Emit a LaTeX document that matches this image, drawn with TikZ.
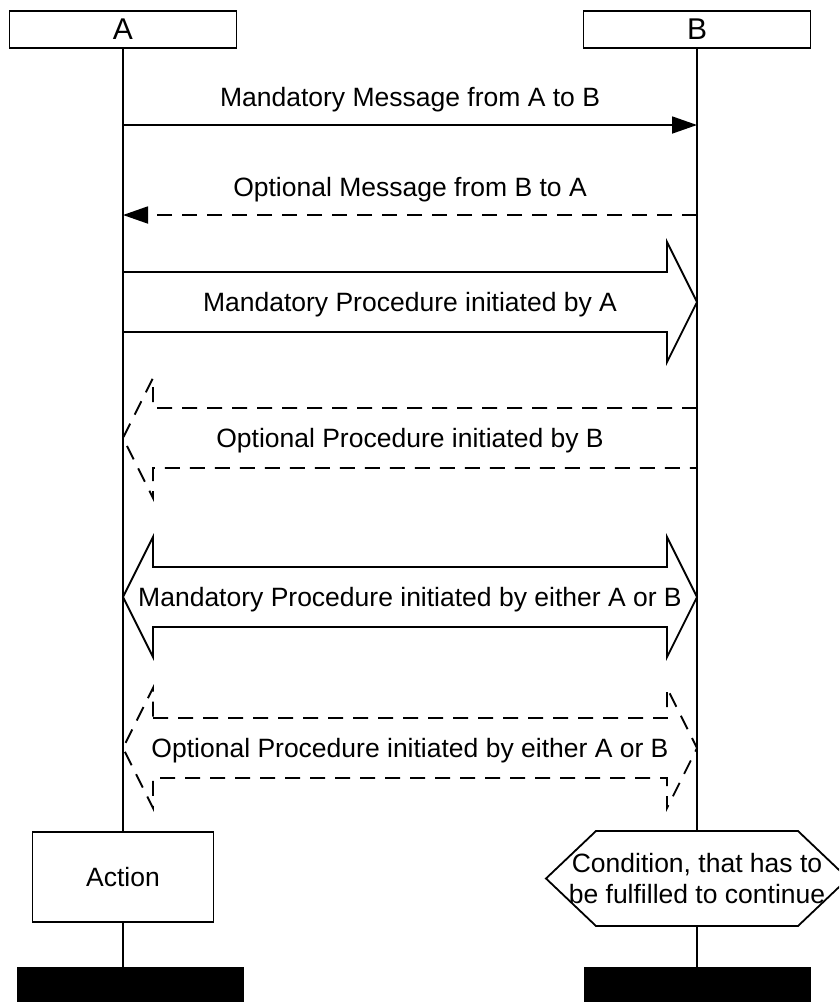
\documentclass[tikz,border=0pt]{standalone}
\usepackage{fontspec}
\setmainfont{Liberation Sans}
\usetikzlibrary{arrows.meta}

\begin{document}
\begin{tikzpicture}[x=1pt,y=-1pt]
      \tikzstyle{box} = [rectangle, draw, line width=1.8pt, inner sep=0pt]
      \tikzstyle{entity} = [box, minimum width=227pt, minimum height=37pt, font=\fontsize{30}{36}\selectfont]
      \tikzstyle{bar} = [rectangle, fill=black, inner sep=0pt, minimum width=227pt, minimum height=50pt]
      \tikzstyle{lbl} = [anchor=base, inner sep=0pt, font=\fontsize{26.5}{31}\selectfont]
      \tikzstyle{msg} = [line width=1.8pt, -{Triangle[length=25pt,width=17pt]}]
      \tikzstyle{proc} = [line width=1.8pt, line join=miter]
      \tikzstyle{opt} = [dash pattern=on 15pt off 10pt]
      \clip (0,0) rectangle (839,1002);
      % entities, action, condition, ends
      \node (A) [entity] at (123,29.5) {A};
      \node (B) [entity] at (697,29.5) {B};
      \node (act) [box, minimum width=181pt, minimum height=90pt, font=\fontsize{26.5}{31}\selectfont] at (123,877) {Action};
      \node (cond) [lbl, anchor=center, align=center] at (697,878.5) {Condition, that has to\\be fulfilled to continue};
      \node (endA) [bar, anchor=north] at (130.5,967) {};
      \node (endB) [bar, anchor=north] at (697,967) {};
      % points on the lifelines
      \foreach \n/\y in {1/125,2/215,3/272,4/302,5/332,6/408,7/438,8/468,9/567,10/597,11/627,12/718,13/748,14/778} {
        \coordinate (a\n) at (123,\y);
        \coordinate (b\n) at (697,\y);
      }
      % condition hexagon
      \draw [proc] (cond.center) ++(-151,0) coordinate (c1) -- ++(50,-47.5) coordinate (c2) -- ++(202,0) -- ++(50,47.5)
        -- ++(-50,47.5) -- ++(-202,0) coordinate (c5) -- cycle;
      % lifelines
      \draw [proc] (A) -- (act);
      \draw [proc] (act) -- (act.south |- endA.north);
      \draw [proc] (B) -- (B |- c2);
      \draw [proc] (B |- c5) -- (B |- endB.north);
      % messages
      \draw [msg] (a1) -- node[lbl, yshift=19pt] {Mandatory Message from A to B} (b1);
      \draw [msg, opt] (b2) -- node[lbl, yshift=19pt] {Optional Message from B to A} (a2);
      % procedures
      \draw [proc] (a3) -- ([xshift=-30pt]b3) -- ++(0,-30) -- (b4) -- ([xshift=-30pt,yshift=-30pt]b5) -- ++(0,-30) -- (a5);
      \path (a4) -- node[lbl, yshift=-9.5pt] {Mandatory Procedure initiated by A} (b4);
      \draw [proc, opt] (b6) -- ([xshift=30pt]a6) -- ++(0,-30) -- (a7) -- ([xshift=30pt,yshift=-30pt]a8) -- ++(0,-30) -- (b8);
      \path (a7) -- node[lbl, yshift=-9.5pt] {Optional Procedure initiated by B} (b7);
      \draw [proc] ([xshift=30pt]a9) -- ([xshift=-30pt]b9) -- ++(0,-30) -- (b10) -- ([xshift=-30pt,yshift=-30pt]b11) -- ++(0,-30)
        -- ([xshift=30pt]a11) -- ++(0,30) -- (a10) -- ([xshift=30pt,yshift=30pt]a9) -- cycle;
      \path (a10) -- node[lbl, yshift=-9.5pt] {Mandatory Procedure initiated by either A or B} (b10);
      \draw [proc, opt] ([xshift=30pt]a12) -- ([xshift=-30pt]b12) -- ++(0,-30) -- (b13) -- ([xshift=-30pt,yshift=-30pt]b14) -- ++(0,-30)
        -- ([xshift=30pt]a14) -- ++(0,30) -- (a13) -- ([xshift=30pt,yshift=30pt]a12) -- cycle;
      \path (a13) -- node[lbl, yshift=-9.5pt] {Optional Procedure initiated by either A or B} (b13);
\end{tikzpicture}
\end{document}
